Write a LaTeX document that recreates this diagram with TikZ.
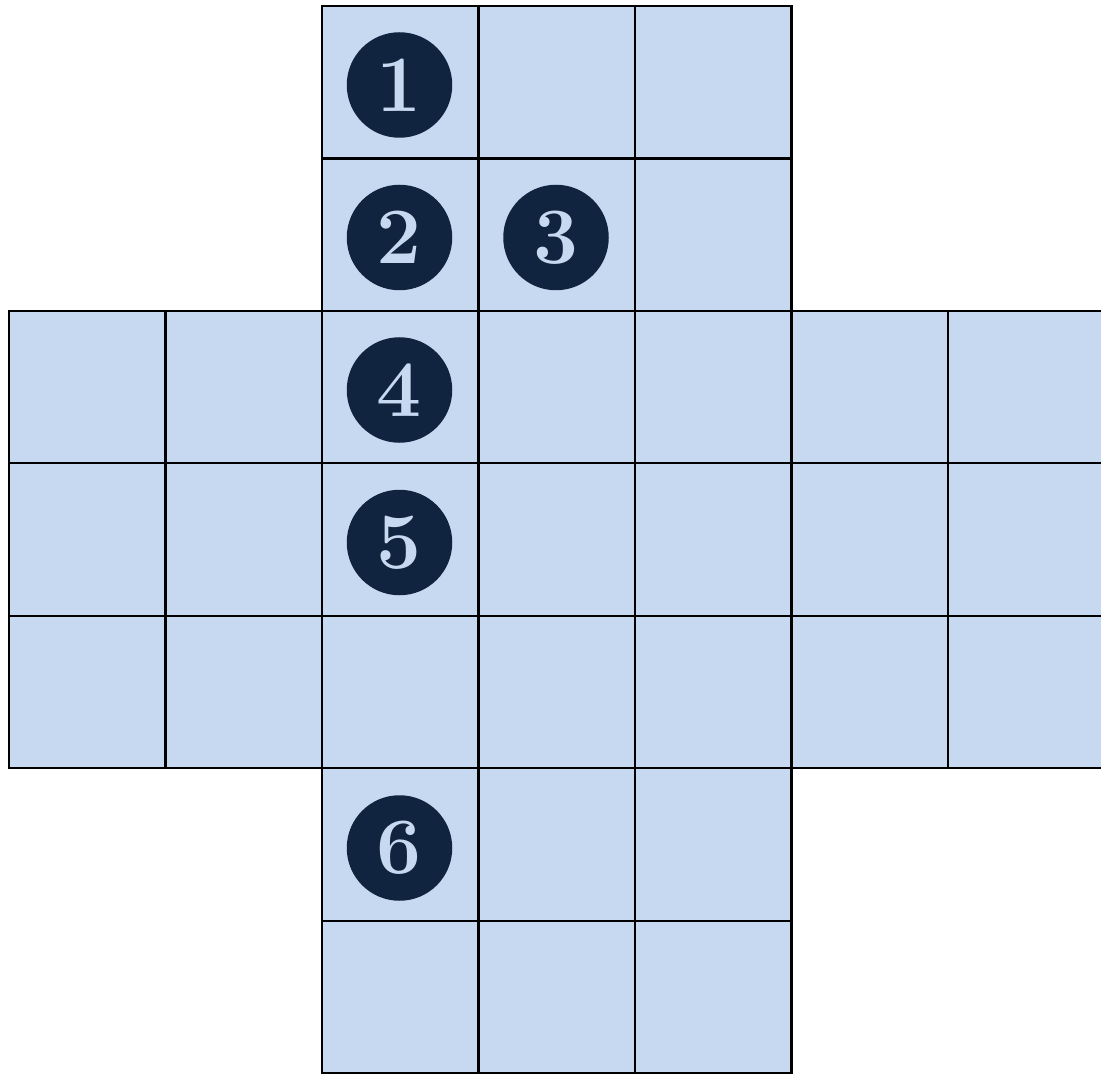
\documentclass[tikz,border=0pt]{standalone}
\definecolor{cellblue}{RGB}{198,217,240}
\definecolor{navy}{RGB}{17,36,63}
\tikzset{
  cell/.style={fill=cellblue,draw=black,line width=2.2pt},
  badge/.style={circle,fill=navy,minimum size=105.5pt,inner sep=0pt,text=cellblue,
    font=\bfseries\fontsize{80}{80}\selectfont}
}
\begin{document}
\begin{tikzpicture}[x=1pt,y=-1pt]
\useasboundingbox (0,0) rectangle (1101,1075);
\clip (0,0) rectangle (1101,1075);
\def\cw{156.5}
\def\ch{152.45}
% cells: col/row
\foreach \c/\r in {2/0,3/0,4/0, 2/1,3/1,4/1,
  0/2,1/2,2/2,3/2,4/2,5/2,6/2,
  0/3,1/3,2/3,3/3,4/3,5/3,6/3,
  0/4,1/4,2/4,3/4,4/4,5/4,6/4,
  2/5,3/5,4/5, 2/6,3/6,4/6}{
  \draw[cell] ({9+\cw*\c},{6+\ch*\r}) rectangle ({9+\cw*(\c+1)},{6+\ch*(\r+1)});
}
\node[badge] (b1) at (399.5,85) {1};
\node[badge] (b2) at (399.5,237.5) {2};
\node[badge] (b3) at (556,237.5) {3};
\node[badge] (b4) at (399.5,390) {4};
\node[badge] (b5) at (399.5,542.5) {5};
\node[badge] (b6) at (399.5,848) {6};
\end{tikzpicture}
\end{document}
